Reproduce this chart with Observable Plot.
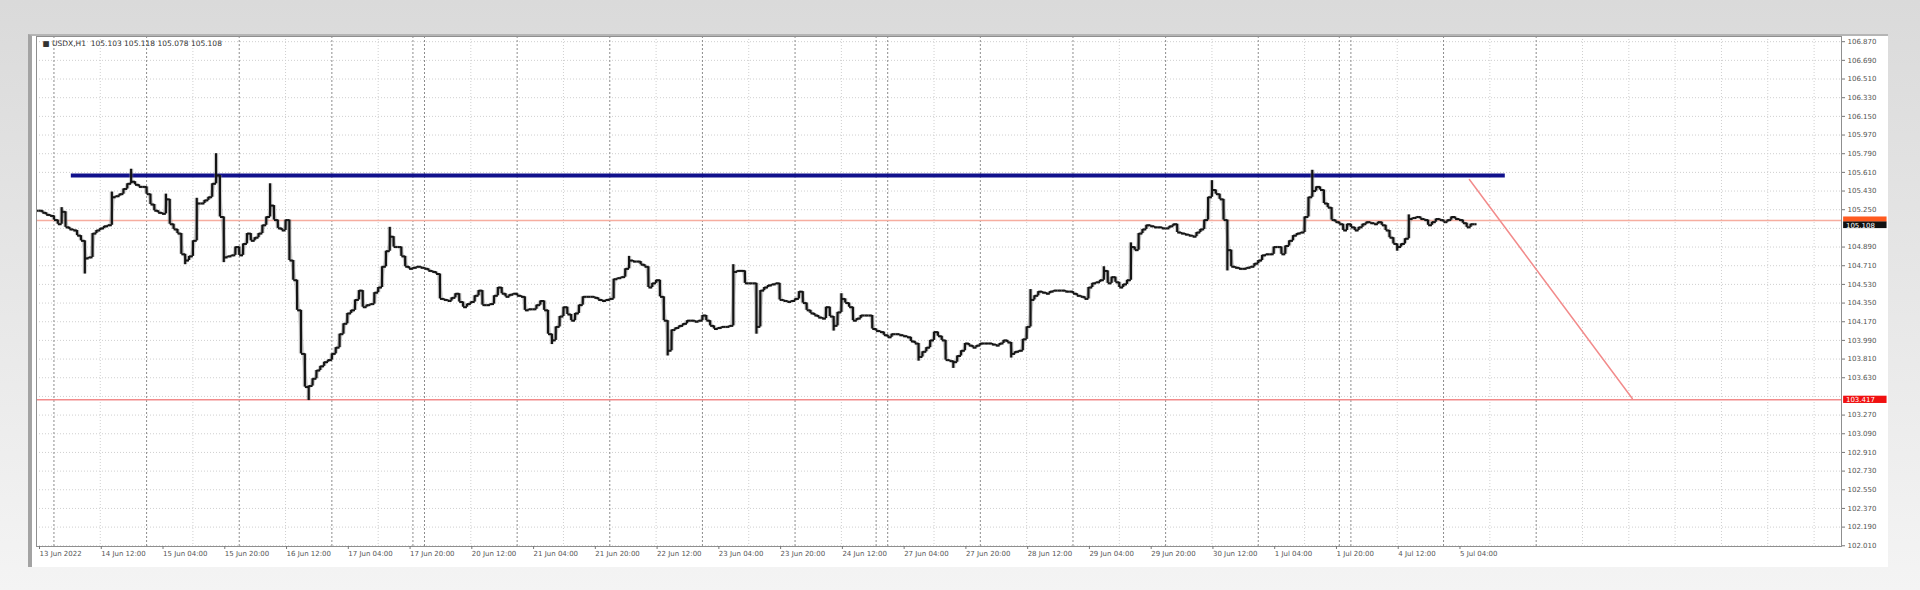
<!DOCTYPE html>
<html><head><meta charset="utf-8">
<script src="https://cdn.jsdelivr.net/npm/d3@7"></script>
<script src="https://cdn.jsdelivr.net/npm/@observablehq/plot@0.6"></script>
<style>
html,body{margin:0;padding:0;width:1920px;height:590px;overflow:hidden;}
body{background:linear-gradient(#dadada,#f4f4f4);font-family:"DejaVu Sans",sans-serif;position:relative}
#panel{position:absolute;left:28px;top:34px;width:1860px;height:533px;background:#fff;border-left:4px solid #a3a3a3;border-top:2px solid #b5b5b5;box-sizing:border-box;}
#chart{position:absolute;left:0;top:0;}
</style></head><body><div id="panel"></div><div id="chart"></div>
<script>
const titleText = "\u25A0 USDX,H1  105.103 105.118 105.078 105.108";
const timeLabels = ["13 Jun 2022","14 Jun 12:00","15 Jun 04:00","15 Jun 20:00","16 Jun 12:00","17 Jun 04:00","17 Jun 20:00","20 Jun 12:00","21 Jun 04:00","21 Jun 20:00","22 Jun 12:00","23 Jun 04:00","23 Jun 20:00","24 Jun 12:00","27 Jun 04:00","27 Jun 20:00","28 Jun 12:00","29 Jun 04:00","29 Jun 20:00","30 Jun 12:00","1 Jul 04:00","1 Jul 20:00","4 Jul 12:00","5 Jul 04:00"];
const timeLabelBars = [0,16,32,48,64,80,96,112,128,144,160,176,192,208,224,240,256,272,288,304,320,336,352,368];
const daySeparatorBars = [4,28,52,76,97,100,124,148,172,196,217,220,244,268,292,316,337,340,364,388];
const gridBars = [16,40,64,88,112,136,160,184,208,232,256,280,304,328,352,376,400,412,424,436,448,460];
const priceTicks = [102.010,102.190,102.370,102.550,102.730,102.910,103.090,103.270,103.450,103.630,103.810,103.990,104.170,104.350,104.530,104.710,104.890,105.070,105.250,105.430,105.610,105.790,105.970,106.150,106.330,106.510,106.690,106.870];
// labels hidden under the price boxes on the right scale
const coveredTicks = [103.450,105.070];

// hourly closes, one per bar from 13 Jun 20:00
const closes = [
105.24,105.22,105.20,105.19,105.15,105.11,105.23,105.08,105.06,105.05,
105.00,104.95,104.78,104.79,105.02,105.05,105.07,105.09,105.10,105.37,
105.38,105.40,105.45,105.50,105.52,105.49,105.47,105.47,105.40,105.30,
105.24,105.22,105.21,105.35,105.11,105.06,105.02,104.82,104.76,104.80,
104.95,105.31,105.31,105.34,105.37,105.50,105.58,105.18,104.79,104.80,
104.81,104.89,104.81,104.92,105.02,104.95,104.98,105.02,105.10,105.18,
105.29,105.15,105.07,105.05,105.15,104.76,104.57,104.28,103.86,103.54,
103.55,103.62,103.70,103.74,103.78,103.80,103.86,103.92,104.05,104.15,
104.25,104.28,104.38,104.47,104.31,104.33,104.34,104.45,104.50,104.70,
104.85,104.99,104.89,104.89,104.80,104.70,104.68,104.69,104.70,104.69,
104.68,104.66,104.65,104.63,104.39,104.38,104.37,104.40,104.44,104.36,
104.31,104.34,104.36,104.42,104.47,104.33,104.33,104.34,104.42,104.50,
104.44,104.41,104.43,104.44,104.42,104.41,104.28,104.29,104.29,104.33,
104.37,104.28,104.05,103.99,104.12,104.22,104.31,104.24,104.18,104.25,
104.33,104.41,104.41,104.41,104.40,104.38,104.37,104.38,104.39,104.58,
104.59,104.60,104.68,104.76,104.75,104.75,104.72,104.70,104.50,104.54,
104.57,104.41,104.18,103.89,104.09,104.11,104.13,104.15,104.18,104.18,
104.17,104.18,104.23,104.18,104.13,104.10,104.11,104.12,104.12,104.13,
104.65,104.66,104.66,104.54,104.54,104.54,104.12,104.47,104.50,104.52,
104.53,104.54,104.38,104.37,104.36,104.37,104.39,104.46,104.35,104.28,
104.25,104.23,104.21,104.20,104.31,104.22,104.13,104.26,104.39,104.35,
104.31,104.18,104.20,104.23,104.23,104.23,104.10,104.08,104.07,104.04,
104.02,104.05,104.05,104.04,104.03,104.02,103.98,103.96,103.83,103.88,
103.92,103.99,104.07,104.03,103.99,103.80,103.79,103.78,103.84,103.89,
103.96,103.94,103.92,103.94,103.96,103.96,103.96,103.95,103.94,103.96,
103.99,103.97,103.86,103.88,103.89,104.00,104.12,104.38,104.42,104.46,
104.45,104.44,104.46,104.47,104.47,104.47,104.46,104.46,104.44,104.42,
104.41,104.39,104.50,104.54,104.55,104.57,104.66,104.54,104.60,104.55,
104.50,104.53,104.57,104.89,104.86,105.02,105.06,105.10,105.09,105.08,
105.08,105.07,105.07,105.09,105.11,105.03,105.02,105.01,105.00,104.99,
105.03,105.06,105.15,105.37,105.44,105.40,105.35,105.15,104.86,104.70,
104.69,104.68,104.68,104.69,104.70,104.73,104.76,104.81,104.82,104.82,
104.89,104.89,104.82,104.90,104.95,105.00,105.02,105.03,105.18,105.37,
105.43,105.47,105.44,105.31,105.27,105.15,105.13,105.11,105.05,105.11,
105.08,105.05,105.08,105.11,105.13,105.12,105.11,105.13,105.10,105.05,
104.98,104.92,104.89,104.92,104.97,105.16,105.17,105.18,105.16,105.15,
105.10,105.13,105.16,105.15,105.13,105.15,105.18,105.16,105.15,105.12,
105.08,105.11,105.11];

// notable wicks: [bar, price]
const wickHighs = [[6,105.27],[19,105.42],[24,105.64],[33,105.40],[41,105.36],[46,105.79],[60,105.50],[91,105.08],[153,104.80],[180,104.72],[208,104.44],[257,104.48],[276,104.70],[283,104.93],[304,105.53],[330,105.63],[355,105.20]];
const wickLows = [[12,104.63],[38,104.72],[48,104.74],[70,103.41],[133,103.95],[163,103.84],[186,104.05],[206,104.08],[228,103.79],[237,103.72],[252,103.82],[308,104.66],[352,104.85]];

const resistanceLevel = 105.58, resistanceFrom = 8.5, resistanceTo = 380;
const upperLevel = 105.146, lowerLevel = 103.417, bidPrice = 105.108;
const trendLine = [{bar:370.7, price:105.541},{bar:412.9, price:103.430}];

const hiMap = new Map(wickHighs), loMap = new Map(wickLows);
const bars = closes.map((c,i)=>{
  const o = i===0 ? c : closes[i-1];
  const h = Math.max(o,c,hiMap.get(i) ?? -Infinity);
  const l = Math.min(o,c,loMap.get(i) ?? Infinity);
  return {i,o,h,l,c};
});
const shownTicks = priceTicks.filter(t=>!coveredTicks.includes(t));

const W=1920,H=590;
const xDomain=[-0.52,467.1];
const boxX1=467.65, boxX2=478.9;
const chart = Plot.plot({
  width:W,height:H,
  marginLeft:36,marginRight:79,marginTop:36,marginBottom:44,
  style:{background:"transparent",fontFamily:"DejaVu Sans, sans-serif",overflow:"visible"},
  x:{type:"linear",domain:xDomain},
  y:{type:"linear",domain:[102.003,106.920]},
  marks:[
    Plot.ruleY(priceTicks,{stroke:"#cfcfcf",strokeDasharray:"1,2",strokeWidth:1}),
    Plot.ruleX(gridBars,{stroke:"#cfcfcf",strokeDasharray:"1,2",strokeWidth:1}),
    Plot.ruleX(daySeparatorBars,{stroke:"#8c8c8c",strokeDasharray:"2,2",strokeWidth:1}),
    Plot.ruleY([upperLevel],{stroke:"#f6ad9f",strokeWidth:1.5}),
    Plot.ruleY([lowerLevel],{stroke:"#f28b8b",strokeWidth:1.5}),
    Plot.line(trendLine,{x:"bar",y:"price",stroke:"#f28b8b",strokeWidth:1.5}),
    Plot.ruleY([resistanceLevel],{x1:resistanceFrom,x2:resistanceTo,stroke:"#11118c",strokeWidth:4}),
    Plot.ruleX(bars,{x:"i",y1:"l",y2:"h",stroke:"#8a8a8a",strokeWidth:4.5,strokeOpacity:0.35}),
    Plot.link(bars,{x1:d=>d.i-0.5,x2:d=>d.i+0.5,y1:"o",y2:"c",stroke:"#8a8a8a",strokeWidth:3,strokeOpacity:0.3}),
    Plot.ruleX(bars,{x:"i",y1:"l",y2:"h",stroke:"#141414",strokeWidth:2.2}),
    Plot.link(bars,{x1:d=>d.i-0.55,x2:"i",y1:"o",y2:"o",stroke:"#141414",strokeWidth:2}),
    Plot.link(bars,{x1:"i",x2:d=>d.i+0.55,y1:"c",y2:"c",stroke:"#141414",strokeWidth:2}),
    Plot.frame({stroke:"#8f8f8f",strokeWidth:1}),
    Plot.axisY(shownTicks,{anchor:"right",tickSize:3,tickPadding:3,fontSize:7,fill:"#555",stroke:"#777",tickFormat:d=>d.toFixed(3),label:null}),
    Plot.axisX(timeLabelBars,{anchor:"bottom",tickSize:3,tickPadding:2,fontSize:7,fill:"#555",stroke:"#777",textAnchor:"start",dx:1,tickFormat:d=>timeLabels[timeLabelBars.indexOf(d)],label:null}),
    // price labels on the right scale
    Plot.rect([upperLevel],{x1:boxX1,x2:boxX2,y1:105.180,y2:105.130,fill:"#ff5a1f",clip:false}),
    Plot.rect([bidPrice],{x1:boxX1,x2:boxX2,y1:105.132,y2:105.068,fill:"#111",clip:false}),
    Plot.text([bidPrice],{x:boxX1+0.6,y:105.100,text:d=>d.toFixed(3),fill:"#fff",fontSize:7,textAnchor:"start",clip:false}),
    Plot.rect([lowerLevel],{x1:boxX1,x2:boxX2,y1:d=>d-0.035,y2:d=>d+0.035,fill:"#f01010",clip:false}),
    Plot.text([lowerLevel],{x:boxX1+0.6,y:d=>d,text:d=>d.toFixed(3),fill:"#fff",fontSize:7,textAnchor:"start",clip:false}),
    Plot.text([titleText],{frameAnchor:"top-left",dx:6,dy:4,fontSize:7.5,fill:"#333",textAnchor:"start"})
  ]
});
document.getElementById("chart").appendChild(chart);
</script></body></html>
